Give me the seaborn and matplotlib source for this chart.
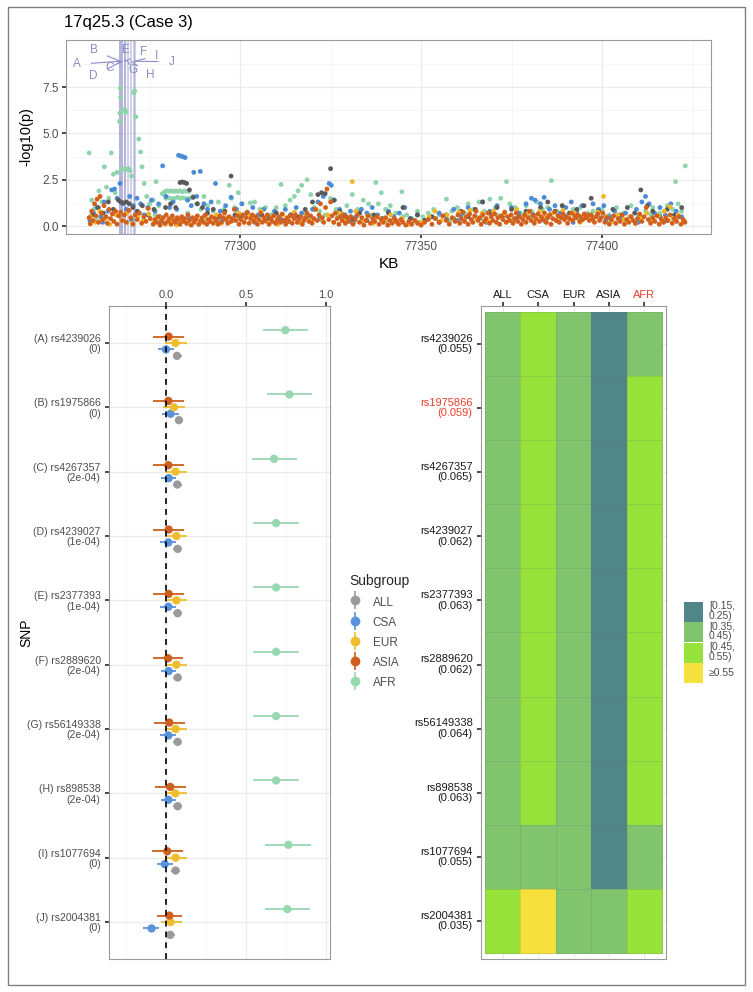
import numpy as np
import pandas as pd
import matplotlib
matplotlib.use("Agg")
import matplotlib.pyplot as plt
from matplotlib.colors import ListedColormap
from matplotlib.lines import Line2D
from matplotlib.patches import Patch, Rectangle
import seaborn as sns

sns.set_theme(style="white")
plt.rcParams["font.family"] = ["Liberation Sans", "DejaVu Sans"]

# ---------------- data ----------------
groups = ["ALL", "CSA", "EUR", "ASIA", "AFR"]

# Manhattan points: (kb, -log10 p)
man_AFR = [(77260.5,0.3),(77263.0,0.5),(77270.0,0.4),(77276.5,0.6),(77280.5,0.3),(77285.5,0.7),(77290.5,0.4),(77295.0,0.2),
    (77300.0,0.5),(77304.5,0.3),(77309.0,0.6),(77313.0,0.2),(77318.0,0.7),(77322.5,0.3),(77327.0,0.5),(77331.5,0.2),(77336.0,0.6),
    (77340.5,0.3),(77345.0,0.5),(77349.5,0.2),(77354.0,0.4),(77358.0,0.3),(77362.0,0.7),(77366.5,0.4),(77371.0,0.6),(77375.5,0.3),
    (77380.0,0.5),(77384.5,0.2),(77389.5,0.6),(77393.5,0.4),(77397.5,0.8),(77401.5,0.3),(77405.5,0.5),(77409.5,0.2),(77413.5,0.6),
    (77417.5,0.3),(77421.5,0.5),
    (77258.3,3.95),(77259.0,1.4),(77259.6,0.9),(77260.2,1.0),(77261.0,1.9),(77261.8,1.3),(77262.5,3.2),(77263.1,2.1),(77263.7,1.5),
    (77264.4,3.95),(77265.0,2.8),(77265.5,1.8),(77266.0,2.9),(77266.7,5.65),(77266.9,7.45),(77267.0,6.95),(77266.8,6.1),(77267.3,6.2),
    (77267.7,6.25),(77268.1,6.3),(77268.4,6.15),(77267.4,3.05),(77268.0,3.1),(77268.6,3.05),(77269.1,3.1),(77269.6,3.0),(77270.0,2.7),
    (77270.6,7.2),(77270.9,7.3),(77271.2,5.9),(77272.0,4.7),(77272.5,4.0),(77272.9,3.2),(77273.5,2.3),(77274.2,1.6),(77275.0,1.2),
    (77276.0,1.4),(77276.8,2.4),(77277.5,1.1),(77278.5,1.75),(77279.2,1.85),(77279.8,1.9),(77280.4,1.88),(77281.0,1.9),(77281.6,1.87),
    (77282.2,1.9),(77282.8,1.88),(77283.4,1.9),(77284.0,1.85),(77284.6,1.9),(77285.2,1.88),(77285.8,1.87),(77279.5,1.5),(77280.3,1.52),
    (77281.1,1.48),(77281.9,1.5),(77282.7,1.55),(77283.5,1.5),(77284.3,1.52),(77285.1,1.48),(77286.0,1.5),(77287.0,1.6),(77288.0,1.2),
    (77289.2,0.9),(77290.0,1.6),(77291.0,1.1),(77292.5,0.8),(77294.0,1.3),(77295.5,0.9),(77297.0,2.2),(77297.6,1.5),(77298.5,1.0),
    (77299.5,1.8),(77300.5,1.2),(77301.5,0.7),(77302.8,1.25),(77304.0,1.3),(77305.5,0.9),(77307.0,1.0),(77308.5,0.6),(77310.0,1.0),
    (77311.3,2.25),(77312.5,1.1),(77313.8,1.4),(77315.0,1.6),(77316.0,1.9),(77317.0,2.2),(77318.5,2.5),(77319.5,1.7),(77320.5,1.0),
    (77322.0,0.8),(77323.5,0.6),(77325.0,1.5),(77326.5,0.9),(77328.0,0.7),(77329.5,1.1),(77331.0,1.7),(77332.5,0.9),(77334.0,1.4),
    (77335.5,1.2),(77337.5,2.35),(77338.2,1.2),(77339.0,1.8),(77340.2,0.9),(77341.5,1.1),(77343.0,0.7),(77344.7,1.85),(77346.0,0.6),
    (77347.5,0.4),(77349.0,0.8),(77350.5,0.5),(77352.0,0.7),(77353.5,0.9),(77355.0,0.6),(77357.0,1.45),(77358.5,0.8),(77360.0,1.0),
    (77361.5,0.6),(77363.0,1.2),(77364.5,0.9),(77366.0,1.3),(77367.5,0.8),(77369.0,1.45),(77370.5,1.0),(77372.0,1.5),(77373.6,2.4),
    (77374.5,1.2),(77376.0,1.0),(77377.5,0.7),(77379.0,1.1),(77380.5,0.8),(77382.0,1.3),(77383.5,0.9),(77385.0,1.0),(77386.0,2.45),
    (77387.5,0.8),(77389.0,1.1),(77390.5,0.6),(77392.0,0.9),(77394.0,1.0),(77396.0,0.7),(77398.0,0.5),(77400.0,0.9),(77402.0,0.6),
    (77404.0,1.0),(77406.0,0.7),(77408.0,1.1),(77410.0,0.6),(77412.0,0.8),(77414.0,1.0),(77416.0,0.7),(77418.0,1.1),(77419.5,0.9),
    (77420.3,2.4),(77421.0,1.2),(77422.0,0.8),(77423.0,3.25)]

man_CSA = [(77262.0,0.2),(77270.0,0.3),(77278.0,0.2),(77286.0,0.4),(77295.0,0.3),(77304.0,0.2),(77313.0,0.3),(77322.0,0.4),
    (77331.0,0.2),(77340.0,0.3),(77350.0,0.1),(77360.0,0.3),(77368.0,0.2),(77376.0,0.4),(77384.0,0.3),(77392.0,0.2),(77401.0,0.3),
    (77410.0,0.2),(77418.0,0.3),
    (77258.5,0.3),(77259.5,0.7),(77260.5,1.0),(77261.5,0.5),(77262.5,1.3),(77263.5,0.8),(77264.5,1.95),(77265.3,2.0),(77266.0,1.5),
    (77266.8,2.3),(77267.5,1.2),(77268.5,0.9),(77269.5,1.6),(77270.5,1.1),(77271.5,1.5),(77272.5,1.2),(77273.5,0.6),(77274.5,1.0),
    (77275.5,1.4),(77276.5,0.8),(77277.5,1.2),(77278.6,3.25),(77279.5,1.6),(77280.5,1.0),(77281.5,1.3),(77282.5,0.9),(77283.0,3.82),
    (77283.6,3.78),(77284.2,3.75),(77284.8,3.7),(77285.5,1.4),(77286.5,1.1),(77287.2,2.9),(77288.0,1.6),(77289.0,2.95),(77290.0,1.2),
    (77291.0,0.9),(77292.0,1.3),(77293.2,2.3),(77294.5,0.8),(77296.0,1.1),(77297.5,1.55),(77299.0,0.9),(77300.5,1.2),(77302.0,0.7),
    (77303.5,1.0),(77305.0,0.6),(77306.5,0.9),(77308.0,0.5),(77309.5,0.8),(77311.0,0.4),(77312.5,0.9),(77314.0,0.6),(77315.5,1.0),
    (77317.0,0.7),(77318.5,0.5),(77320.0,0.9),(77321.5,1.3),(77323.0,1.6),(77324.6,2.3),(77325.2,2.2),(77326.0,1.4),(77327.5,0.9),
    (77329.0,0.6),(77330.5,0.8),(77332.0,0.5),(77333.5,0.9),(77335.0,0.7),(77336.5,1.0),(77338.0,0.6),(77339.5,0.4),(77341.0,0.8),
    (77342.5,0.5),(77344.0,0.7),(77345.5,1.0),(77347.0,0.4),(77349.0,0.6),(77351.0,0.3),(77353.0,0.5),(77355.0,0.7),(77357.0,0.4),
    (77359.0,0.9),(77361.0,0.6),(77363.0,1.0),(77365.0,0.5),(77367.0,1.3),(77369.0,0.8),(77371.0,1.1),(77373.0,0.6),(77375.0,1.0),
    (77377.0,0.7),(77379.0,1.2),(77380.5,1.5),(77381.5,1.4),(77383.0,1.2),(77384.0,1.55),(77385.5,0.9),(77387.0,1.1),(77388.5,0.7),
    (77390.0,1.0),(77391.5,1.3),(77393.0,0.8),(77394.5,1.1),(77396.0,0.6),(77397.5,1.2),(77399.0,0.9),(77400.5,1.1),(77402.0,0.5),
    (77403.5,0.8),(77405.0,0.4),(77406.5,0.7),(77408.0,0.5),(77409.5,0.9),(77411.0,1.3),(77412.0,1.6),(77413.0,1.2),(77414.5,0.7),
    (77416.0,1.0),(77417.5,0.6),(77419.0,1.2),(77420.5,0.8),(77422.0,0.5)]

man_ALL = [(77259.2,0.6),(77260.8,1.0),(77262.2,0.7),(77263.6,1.3),(77265.0,0.9),(77266.4,1.4),(77267.0,1.3),(77267.8,1.25),
    (77268.6,1.3),(77269.4,1.2),(77270.4,1.0),(77271.6,0.8),(77273.0,1.1),(77274.6,0.6),(77276.2,0.9),(77277.8,0.5),(77279.4,1.0),
    (77280.8,1.2),(77282.2,1.0),(77283.4,2.35),(77284.0,2.38),(77284.6,2.35),(77285.2,2.3),(77286.0,1.95),(77287.0,1.55),(77288.2,1.2),
    (77289.6,1.0),(77291.0,0.7),(77292.6,0.9),(77294.2,0.5),(77295.8,0.8),(77297.5,2.7),(77298.6,0.6),(77300.2,0.4),(77302.0,0.7),
    (77304.0,0.3),(77306.0,0.6),(77308.0,0.4),(77310.0,0.7),(77312.0,0.3),(77314.0,0.6),(77316.0,0.5),(77318.0,0.9),(77320.0,1.3),
    (77321.5,1.7),(77322.5,1.8),(77323.5,1.75),(77325.0,3.1),(77326.0,1.4),(77327.5,0.8),(77329.0,0.5),(77331.0,0.4),(77333.0,0.7),
    (77335.0,0.3),(77337.0,0.6),(77339.0,0.4),(77341.0,0.7),(77343.0,0.3),(77345.0,1.0),(77347.0,0.4),(77349.0,0.6),(77351.0,0.3),
    (77353.0,0.5),(77355.0,0.2),(77357.0,0.6),(77359.0,0.4),(77361.0,0.8),(77363.0,0.5),(77365.0,0.9),(77367.0,1.3),(77369.0,0.7),
    (77371.0,1.0),(77373.0,0.6),(77375.0,0.9),(77377.0,0.5),(77379.0,0.8),(77381.0,0.6),(77383.0,1.0),(77385.0,1.3),(77387.0,0.8),
    (77389.0,1.1),(77391.0,0.7),(77393.0,0.9),(77395.0,1.1),(77397.0,1.5),(77399.0,0.8),(77401.0,0.5),(77403.0,0.9),(77405.0,0.6),
    (77407.0,1.0),(77409.0,0.7),(77410.7,1.95),(77412.5,1.1),(77414.0,0.8),(77416.0,0.5),(77418.0,0.9),(77420.0,0.6),(77422.0,1.0)]

man_EUR = [(77258.6,0.5),(77260.0,0.2),(77261.2,0.8),(77262.8,0.4),(77264.0,0.1),(77265.8,0.6),(77267.2,0.3),(77268.8,0.7),
    (77270.2,0.15),(77271.8,0.5),(77273.2,0.3),(77274.8,0.65),(77276.2,0.2),(77277.8,0.45),(77279.4,0.1),(77280.8,0.35),(77282.4,0.05),
    (77284.0,0.3),(77285.4,0.15),(77287.0,0.4),(77288.6,0.1),(77290.2,0.5),(77291.6,0.25),(77293.4,0.6),(77294.8,0.15),(77296.4,0.45),
    (77298.0,0.3),(77299.6,0.7),(77301.2,0.2),(77302.6,0.55),(77304.2,0.35),(77305.8,0.8),(77307.2,0.25),(77308.8,0.5),(77310.4,0.1),
    (77311.8,0.6),(77313.4,0.3),(77315.0,0.75),(77316.4,0.2),(77318.0,0.5),(77319.6,0.35),(77321.0,0.9),(77322.6,0.4),(77324.2,0.6),
    (77325.8,0.2),(77327.4,0.7),(77328.8,0.3),(77330.4,0.5),(77331.0,2.4),(77332.0,0.8),(77333.6,0.25),(77335.2,0.55),(77336.8,0.15),
    (77338.4,0.45),(77340.0,0.3),(77341.6,0.6),(77343.2,0.2),(77344.8,0.4),(77346.6,0.1),(77348.4,0.3),(77350.2,0.2),(77352.2,0.5),
    (77353.8,0.8),(77355.6,0.3),(77357.2,0.6),(77358.8,0.4),(77360.4,0.75),(77362.0,0.3),(77363.6,0.85),(77365.2,0.45),(77366.8,0.7),
    (77368.4,0.25),(77370.0,0.8),(77371.6,0.5),(77373.2,0.65),(77374.8,0.3),(77376.4,0.9),(77378.0,0.45),(77379.6,0.7),(77381.2,0.25),
    (77382.8,0.8),(77384.4,0.5),(77386.0,0.65),(77387.6,0.3),(77389.2,0.85),(77390.8,0.45),(77392.4,0.7),(77394.0,0.2),(77395.6,0.6),
    (77397.2,0.35),(77398.8,0.75),(77400.4,1.6),(77401.2,0.5),(77402.8,0.25),(77404.4,0.6),(77406.0,0.35),(77407.6,0.5),(77409.2,0.15),
    (77410.8,0.45),(77412.4,0.7),(77414.0,0.3),(77415.6,0.55),(77417.2,0.8),(77418.8,1.05),(77419.6,0.4),(77421.0,0.6),(77422.6,0.3)]

man_ASIA = [(77258.3,0.45),(77258.6,0.12),(77259.0,0.8),(77259.4,0.3),(77259.8,1.2),(77260.2,0.55),(77260.5,1.45),(77260.9,0.2),
    (77261.3,1.6),(77261.7,0.7),(77262.0,0.35),(77262.4,1.1),(77262.9,0.5),(77263.3,0.15),(77263.8,0.9),(77264.2,0.4),(77264.7,0.65),
    (77265.1,0.25),(77265.6,0.8),(77266.0,0.1),(77266.5,0.55),(77267.0,0.75),(77267.5,0.3),(77268.0,0.6),(77268.6,0.2),(77269.2,0.85),
    (77269.8,0.45),(77270.4,0.1),(77271.0,0.6),(77271.6,0.35),(77272.2,0.7),(77272.8,0.15),(77273.4,0.5),(77274.0,0.25),(77274.6,0.95),
    (77275.2,0.4),(77276.0,0.1),(77276.5,0.35),(77277.0,0.2),(77277.4,0.5),(77277.9,0.05),(77278.3,0.3),(77278.8,0.45),(77279.2,0.15),
    (77279.6,0.6),(77280.0,0.25),(77280.4,0.4),(77280.9,0.1),(77281.3,0.55),(77281.7,0.3),(77282.1,0.2),(77282.6,0.45),(77283.0,0.35),
    (77283.4,0.1),(77283.9,0.5),(77284.3,0.25),(77284.7,0.4),(77285.2,0.15),(77285.6,0.6),(77286.0,0.3),(77286.5,0.05),(77286.9,0.45),
    (77287.3,0.2),(77287.8,0.35),(77288.2,0.55),(77288.6,0.1),(77289.1,0.3),(77289.5,0.45),(77289.9,0.2),(77290.4,0.6),(77290.8,0.1),
    (77291.2,0.35),(77291.7,0.25),(77292.1,0.5),(77292.6,0.15),(77293.0,0.4),(77293.5,0.3),(77293.9,0.1),(77294.4,0.55),(77294.8,0.2),
    (77295.3,0.45),(77295.7,0.7),(77296.1,0.35),(77296.6,0.15),(77297.0,0.5),(77297.5,0.25),(77297.9,0.4),(77298.4,0.9),(77298.8,0.3),
    (77299.3,0.55),(77299.7,0.1),(77300.2,0.35),(77300.7,0.6),(77301.1,0.2),(77301.6,0.45),(77302.0,0.75),(77302.5,0.15),(77302.9,0.4),
    (77303.4,0.6),(77303.8,0.25),(77304.3,0.5),(77304.8,0.1),(77305.2,0.35),(77305.7,0.7),(77306.1,0.2),(77306.6,0.45),(77307.0,0.3),
    (77307.5,0.6),(77308.0,0.1),(77308.4,0.4),(77308.9,0.25),(77309.3,0.55),(77309.8,0.15),(77310.3,0.35),(77310.7,0.5),(77311.2,0.2),
    (77311.6,0.65),(77312.1,0.3),(77312.6,0.1),(77313.0,0.45),(77313.5,0.25),(77313.9,0.55),(77314.4,0.15),(77314.9,0.4),(77315.3,0.6),
    (77315.8,0.2),(77316.2,0.35),(77316.7,0.5),(77317.2,0.1),(77317.6,0.3),(77318.1,0.45),(77318.5,0.7),(77319.0,0.25),(77319.5,0.55),
    (77319.9,0.15),(77320.4,0.4),(77320.8,0.9),(77321.3,0.3),(77321.8,0.6),(77322.2,1.2),(77322.7,0.45),(77323.1,0.2),(77323.6,1.0),
    (77324.0,2.0),(77324.5,0.35),(77325.0,1.3),(77325.4,0.55),(77325.9,0.2),(77326.3,0.7),(77326.8,0.4),(77327.3,0.1),(77327.7,0.5),
    (77328.2,0.3),(77328.6,0.6),(77329.1,0.15),(77329.6,0.45),(77330.0,0.25),(77330.6,0.5),(77331.2,0.1),(77331.8,0.35),(77332.4,0.6),
    (77333.0,0.2),(77333.6,0.45),(77334.2,0.05),(77334.8,0.3),(77335.4,0.55),(77336.0,0.15),(77336.6,0.4),(77337.2,0.25),(77337.8,0.5),
    (77338.4,0.1),(77339.0,0.35),(77339.6,0.2),(77340.2,0.45),(77340.8,0.05),(77341.4,0.3),(77342.0,0.15),(77342.6,0.4),(77343.2,0.25),
    (77343.8,0.1),(77344.4,0.35),(77345.0,0.2),(77345.8,0.05),(77346.6,0.25),(77347.4,0.1),(77348.2,0.3),(77349.0,0.15),(77350.0,0.05),
    (77351.0,0.2),(77352.0,0.35),(77353.0,0.1),(77354.0,0.4),(77355.0,0.2),(77356.0,0.55),(77357.0,0.3),(77357.8,0.1),(77358.6,0.45),
    (77359.4,0.25),(77360.2,0.6),(77360.7,0.15),(77361.1,0.4),(77361.6,0.75),(77362.0,0.25),(77362.5,0.5),(77363.0,0.1),(77363.4,0.65),
    (77363.9,0.35),(77364.3,0.2),(77364.8,0.55),(77365.2,0.8),(77365.7,0.3),(77366.2,0.45),(77366.6,0.1),(77367.1,0.6),(77367.5,0.25),
    (77368.0,0.4),(77368.5,0.7),(77368.9,0.15),(77369.4,0.5),(77369.8,0.3),(77370.3,0.65),(77370.8,0.2),(77371.2,0.45),(77371.7,0.1),
    (77372.1,0.55),(77372.6,0.35),(77373.1,0.75),(77373.5,0.2),(77374.0,0.5),(77374.4,0.3),(77374.9,0.6),(77375.4,0.15),(77375.8,0.4),
    (77376.3,0.7),(77376.7,0.25),(77377.2,0.5),(77377.7,0.1),(77378.1,0.35),(77378.6,0.6),(77379.0,0.2),(77379.5,0.45),(77380.0,0.8),
    (77380.4,0.3),(77380.9,0.55),(77381.3,0.15),(77381.8,0.4),(77382.3,0.65),(77382.7,0.25),(77383.2,0.5),(77383.6,0.35),(77384.1,0.7),
    (77384.6,0.2),(77385.0,0.45),(77385.5,0.6),(77385.9,0.1),(77386.4,0.4),(77386.9,0.75),(77387.3,0.3),(77387.8,0.55),(77388.2,0.2),
    (77388.7,0.45),(77389.2,0.65),(77389.6,0.35),(77390.1,0.5),(77390.5,0.15),(77391.0,0.4),(77391.5,0.7),(77391.9,0.3),(77392.4,0.55),
    (77392.8,0.45),(77393.3,0.6),(77393.8,0.25),(77394.2,0.5),(77394.7,0.35),(77395.1,0.65),(77395.6,0.45),(77396.1,0.55),(77396.5,0.3),
    (77397.0,0.6),(77397.4,0.4),(77397.9,0.2),(77398.4,0.5),(77398.8,0.65),(77399.3,0.3),(77399.7,0.45),(77400.2,0.7),(77400.8,0.2),
    (77401.4,0.45),(77402.0,0.1),(77402.6,0.35),(77403.2,0.55),(77403.8,0.15),(77404.4,0.4),(77405.0,0.25),(77405.6,0.6),(77406.2,0.1),
    (77406.8,0.35),(77407.4,0.2),(77408.0,0.5),(77408.6,0.3),(77409.2,0.15),(77409.8,0.4),(77410.4,0.65),(77411.0,0.25),(77411.6,0.5),
    (77412.2,1.0),(77412.8,0.35),(77413.4,0.15),(77414.0,0.45),(77414.6,0.25),(77415.2,0.55),(77415.8,0.1),(77416.4,0.35),(77417.0,0.2),
    (77417.6,0.45),(77418.2,0.3),(77418.8,0.6),(77419.4,0.15),(77420.0,0.4),(77420.6,0.25),(77421.2,0.5),(77421.8,0.1),(77422.4,0.35),
    (77422.9,0.2)]

# highlighted SNPs A-J in the Manhattan panel
snp_letters = ["A", "B", "C", "D", "E", "F", "G", "H", "I", "J"]
snp_kb = [77266.85, 77266.9, 77267.3, 77267.35, 77268.2, 77268.25, 77268.9, 77269.9, 77270.8, 77270.85]

# forest plot
forest_labels = ["(A) rs4239026\n(0)", "(B) rs1975866\n(0)", "(C) rs4267357\n(2e-04)", "(D) rs4239027\n(1e-04)",
                 "(E) rs2377393\n(1e-04)", "(F) rs2889620\n(2e-04)", "(G) rs56149338\n(2e-04)", "(H) rs898538\n(2e-04)",
                 "(I) rs1077694\n(0)", "(J) rs2004381\n(0)"]
est_AFR = [0.746, 0.771, 0.675, 0.688, 0.688, 0.688, 0.688, 0.688, 0.765, 0.758]
lo_AFR = [0.604, 0.629, 0.535, 0.546, 0.546, 0.546, 0.546, 0.546, 0.621, 0.617]
hi_AFR = [0.890, 0.915, 0.817, 0.833, 0.833, 0.833, 0.833, 0.833, 0.908, 0.902]
est_ASIA = [0.017, 0.015, 0.015, 0.017, 0.017, 0.013, 0.021, 0.027, 0.008, 0.021]
lo_ASIA = [-0.079, -0.083, -0.083, -0.079, -0.079, -0.083, -0.075, -0.069, -0.088, -0.058]
hi_ASIA = [0.113, 0.113, 0.113, 0.113, 0.113, 0.108, 0.119, 0.123, 0.106, 0.102]
est_EUR = [0.060, 0.050, 0.060, 0.065, 0.065, 0.065, 0.060, 0.058, 0.060, 0.029]
lo_EUR = [-0.006, -0.017, -0.006, -0.002, -0.002, -0.002, -0.006, -0.006, -0.004, -0.033]
hi_EUR = [0.129, 0.121, 0.129, 0.131, 0.131, 0.131, 0.129, 0.129, 0.129, 0.098]
est_CSA = [0.000, 0.029, 0.017, 0.015, 0.015, 0.017, 0.015, 0.015, -0.008, -0.090]
lo_CSA = [-0.050, -0.023, -0.033, -0.035, -0.035, -0.031, -0.035, -0.033, -0.054, -0.142]
hi_CSA = [0.050, 0.081, 0.065, 0.065, 0.065, 0.065, 0.065, 0.063, 0.044, -0.042]
est_ALL = [0.069, 0.081, 0.071, 0.073, 0.073, 0.073, 0.073, 0.073, 0.060, 0.027]
lo_ALL = [0.042, 0.054, 0.044, 0.046, 0.046, 0.046, 0.046, 0.046, 0.033, 0.000]
hi_ALL = [0.098, 0.108, 0.098, 0.100, 0.100, 0.100, 0.100, 0.100, 0.088, 0.054]

# heatmap
heat_labels = ["rs4239026\n(0.055)", "rs1975866\n(0.059)", "rs4267357\n(0.065)", "rs4239027\n(0.062)",
               "rs2377393\n(0.063)", "rs2889620\n(0.062)", "rs56149338\n(0.064)", "rs898538\n(0.063)",
               "rs1077694\n(0.055)", "rs2004381\n(0.035)"]
heat_ALL = [0.40, 0.40, 0.40, 0.40, 0.40, 0.40, 0.40, 0.40, 0.40, 0.50]
heat_CSA = [0.50, 0.50, 0.50, 0.50, 0.50, 0.50, 0.50, 0.50, 0.40, 0.58]
heat_EUR = [0.40, 0.40, 0.40, 0.40, 0.40, 0.40, 0.40, 0.40, 0.40, 0.40]
heat_ASIA = [0.20, 0.20, 0.20, 0.20, 0.20, 0.20, 0.20, 0.20, 0.20, 0.40]
heat_AFR = [0.40, 0.50, 0.50, 0.50, 0.50, 0.50, 0.50, 0.50, 0.40, 0.50]
bin_labels = ["[0.15,\n0.25)", "[0.35,\n0.45)", "[0.45,\n0.55)", "\u22650.55"]

# ---------------- styling ----------------
man_colors = {"ALL": "#5a5a5a", "CSA": "#4c8bd8", "EUR": "#f0b62a", "ASIA": "#d35f1c", "AFR": "#8fd4aa"}
fp_colors = {"ALL": "#9a9a9a", "CSA": "#5893dc", "EUR": "#f0bd2f", "ASIA": "#cf5f1e", "AFR": "#98d8b0"}
bin_colors = ["#508687", "#80c46e", "#97e23b", "#f6e03c"]
lav = "#8c8cc8"
txtgray = "#4d4d4d"

fig = plt.figure(figsize=(7.53, 9.92), dpi=100)
W, H = 753.0, 992.0

def fax(l, t, r, b):
    return fig.add_axes([l / W, 1 - b / H, (r - l) / W, (b - t) / H])

# ---------------- Manhattan ----------------
ax_m = fax(66, 40, 711, 234)
rows_m = []
for g, pts in [("AFR", man_AFR), ("CSA", man_CSA), ("ALL", man_ALL), ("EUR", man_EUR), ("ASIA", man_ASIA)]:
    for kb, lp in pts:
        rows_m.append({"kb": kb, "logp": lp, "group": g})
mdf = pd.DataFrame(rows_m)
ax_m.set_axisbelow(True)
sns.scatterplot(data=mdf, x="kb", y="logp", hue="group", palette=man_colors, s=12, linewidth=0,
                legend=False, ax=ax_m, zorder=3)
for kb in snp_kb:
    ax_m.axvline(kb, color="#7b7bc0", lw=1.4, alpha=0.35, zorder=2)

label_pos = {"A": (77255.0, 8.74), "B": (77259.5, 9.5), "C": (77264.0, 8.55), "D": (77259.5, 8.1),
             "E": (77268.5, 9.5), "F": (77273.3, 9.4), "G": (77270.5, 8.42), "H": (77275.3, 8.15),
             "I": (77277.0, 9.2), "J": (77281.0, 8.88)}
for letter, kb in zip(snp_letters, snp_kb):
    ax_m.annotate(letter, xy=(kb, 8.9), xytext=label_pos[letter], color=lav, fontsize=8.5,
                  ha="center", va="center", zorder=5,
                  arrowprops=dict(arrowstyle="-", color=lav, lw=0.8, shrinkA=5, shrinkB=0))

ax_m.set_xlim(77251.9, 77430.1)
ax_m.set_ylim(-0.43, 10.05)
ax_m.set_xticks([77300, 77350, 77400])
ax_m.set_xticks([77275, 77325, 77375, 77425], minor=True)
ax_m.set_yticks([0, 2.5, 5.0, 7.5])
ax_m.set_yticklabels(["0.0", "2.5", "5.0", "7.5"])
ax_m.set_yticks([1.25, 3.75, 6.25, 8.75], minor=True)
ax_m.grid(which="major", color="#ebebeb", lw=0.9)
ax_m.grid(which="minor", color="#f3f3f3", lw=0.5)
ax_m.tick_params(which="major", length=3, color="#333333", labelcolor=txtgray, labelsize=8.5, pad=2,
                 bottom=True, left=True)
ax_m.tick_params(which="minor", length=0)
for sp in ax_m.spines.values():
    sp.set_color("#9a9a9a")
    sp.set_linewidth(0.8)
ax_m.set_xlabel("KB", fontsize=11, color="black", labelpad=3)
ax_m.set_ylabel("-log10(p)", fontsize=10.5, color="black")
ax_m.yaxis.set_label_coords(-(66 - 33) / 645.0, 0.5)
fig.text(64 / W, 1 - 23 / H, "17q25.3 (Case 3)", fontsize=12, va="center", ha="left", color="black")

# ---------------- Forest ----------------
ax_f = fax(109, 306, 330, 959)
offsets = {"AFR": -0.2, "ASIA": -0.1, "EUR": 0.0, "CSA": 0.1, "ALL": 0.2}
series = {"ALL": (est_ALL, lo_ALL, hi_ALL), "CSA": (est_CSA, lo_CSA, hi_CSA), "EUR": (est_EUR, lo_EUR, hi_EUR),
          "ASIA": (est_ASIA, lo_ASIA, hi_ASIA), "AFR": (est_AFR, lo_AFR, hi_AFR)}
recs = []
for g in groups:
    est, lo, hi = series[g]
    for i in range(len(forest_labels)):
        recs.append({"group": g, "est": est[i], "lo": lo[i], "hi": hi[i], "y": i + 1 + offsets[g]})
fdf = pd.DataFrame(recs)
ax_f.set_axisbelow(True)
for g in groups:
    sub = fdf[fdf.group == g]
    ax_f.hlines(sub["y"], sub["lo"], sub["hi"], color=fp_colors[g], lw=1.3, zorder=3)
sns.scatterplot(data=fdf, x="est", y="y", hue="group", hue_order=groups, palette=fp_colors, s=36,
                linewidth=0, legend=False, ax=ax_f, zorder=4)
ax_f.axvline(0, color="black", lw=1.2, ls=(0, (3.5, 3)), zorder=5)
ax_f.set_xlim(-0.356, 1.025)
ax_f.set_ylim(10.575, 0.425)
ax_f.xaxis.tick_top()
ax_f.set_xticks([0, 0.5, 1.0])
ax_f.set_xticklabels(["0.0", "0.5", "1.0"])
ax_f.set_xticks([-0.25, 0.25, 0.75], minor=True)
ax_f.set_yticks(np.arange(1, 11))
ax_f.set_yticklabels(forest_labels)
for t in ax_f.get_yticklabels():
    t.set_linespacing(1.05)
ax_f.grid(which="major", color="#ebebeb", lw=0.9)
ax_f.grid(which="minor", axis="x", color="#f3f3f3", lw=0.5)
ax_f.tick_params(which="major", length=3, color="#333333", labelcolor=txtgray, labelsize=7.6, pad=3,
                 top=True, bottom=False, left=True, labeltop=True, labelbottom=False)
ax_f.tick_params(axis="x", which="major", labelsize=8, pad=1.5)
ax_f.tick_params(which="minor", length=0)
for sp in ax_f.spines.values():
    sp.set_color("#9a9a9a")
    sp.set_linewidth(0.8)
ax_f.set_xlabel("")
ax_f.set_ylabel("SNP", fontsize=10, color="black")
ax_f.yaxis.set_label_coords((33 - 109) / 221.0, 0.5)

handles = [(Line2D([], [], marker="|", markersize=13, mew=1.2, color=fp_colors[g], ls="none"),
            Line2D([], [], marker="o", markersize=6, color=fp_colors[g], ls="none")) for g in groups]
leg1 = fig.legend(handles, groups, title="Subgroup", loc="upper left", bbox_to_anchor=(349 / W, 1 - 574 / H),
                  frameon=False, fontsize=8.5, title_fontsize=10, handlelength=1.1, handleheight=1.45,
                  labelspacing=0.52, handletextpad=0.9, borderpad=0, borderaxespad=0, alignment="left")
leg1._legend_box.sep = 5
for t in leg1.get_texts():
    t.set_color(txtgray)

# ---------------- Heatmap ----------------
ax_h = fax(481, 306, 666, 959)
hvals = pd.DataFrame({"ALL": heat_ALL, "CSA": heat_CSA, "EUR": heat_EUR, "ASIA": heat_ASIA, "AFR": heat_AFR},
                     index=heat_labels)
codes = hvals.apply(lambda c: np.select([c < 0.25, c < 0.45, c < 0.55], [0, 1, 2], 3))
ax_h.set_axisbelow(True)
sns.heatmap(codes, ax=ax_h, cmap=ListedColormap(bin_colors), vmin=-0.5, vmax=3.5, cbar=False,
            linewidths=0.4, linecolor=(0.4, 0.4, 0.4, 0.18))
ax_h.set_xlim(-0.115, 5.115)
ax_h.set_ylim(10.094, -0.094)
ax_h.xaxis.tick_top()
ax_h.set_xticks(np.arange(5) + 0.5)
ax_h.set_xticklabels(groups, rotation=0)
ax_h.set_yticks(np.arange(10) + 0.5)
ax_h.set_yticklabels(heat_labels, rotation=0)
for t in ax_h.get_yticklabels():
    t.set_linespacing(1.05)
ax_h.tick_params(length=3, color="#333333", labelcolor="#1a1a1a", labelsize=8, pad=3,
                 top=True, bottom=False, left=True, labeltop=True, labelbottom=False)
ax_h.tick_params(axis="x", pad=1.5)
ax_h.get_xticklabels()[4].set_color("#e8402f")
ax_h.get_yticklabels()[1].set_color("#e8402f")
ax_h.grid(True, color="#e8e8e8", lw=0.7)
ax_h.set_xlabel("")
ax_h.set_ylabel("")
for sp in ax_h.spines.values():
    sp.set_visible(True)
    sp.set_color("#9a9a9a")
    sp.set_linewidth(0.8)

phandles = [Patch(facecolor=c, edgecolor="none") for c in bin_colors]
leg2 = fig.legend(phandles, bin_labels, loc="upper left", bbox_to_anchor=(684 / W, 1 - 601 / H),
                  frameon=False, fontsize=7.5, handlelength=1.8, handleheight=2.58, labelspacing=0.0,
                  handletextpad=0.6, borderpad=0, borderaxespad=0)
for t in leg2.get_texts():
    t.set_linespacing(0.95)
    t.set_color(txtgray)

# outer frame
fig.add_artist(Rectangle((8 / W, 7 / H), (745 - 8) / W, (985 - 7) / H, transform=fig.transFigure,
                         fill=False, edgecolor="#808080", lw=1.0))

fig.savefig("out.png", dpi=100)
